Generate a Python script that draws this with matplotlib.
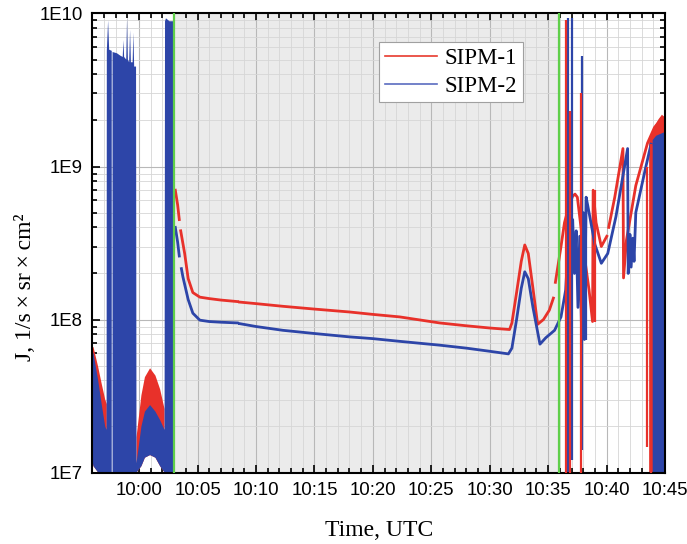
import numpy as np
import matplotlib
matplotlib.use("Agg")
import matplotlib.pyplot as plt
from matplotlib.lines import Line2D
from matplotlib.ticker import MultipleLocator, FuncFormatter, LogLocator, NullFormatter, FixedLocator

nan = np.nan

# time axis: minutes after 10:00 UTC
x_ticks = [0, 5, 10, 15, 20, 25, 30, 35, 40, 45]
y_ticks = [1e7, 1e8, 1e9, 1e10]
y_tick_labels = ["1E7", "1E8", "1E9", "1E10"]
green_marks = [3.02, 35.9]

# main SIPM-1 curve
red_t = [3.1, 3.3, 3.44, nan, 3.56, 3.7, 3.9, 4.2, 4.6, 5.2, 6.0, 7.0, 8.4, nan, 8.6, 10, 12.3, 15,
         18, 20, 22.3, 25.7, 28, 30, 31.7, 31.9, 32.3, 32.7, 33.0, 33.3, 33.7, 34.1, 34.6, 35.1,
         35.45, nan, 35.62, 36.1, 36.4, 36.8, 37.1, 37.3, 37.5, 37.7, 38.1, 38.5, 38.8, 38.85,
         39.1, 39.55, 40.02, nan, 40.18, 40.7, 41.4, 41.45, 41.7, 42.5, 43.5, 44.1, 44.8]
red_j = [7.0e8, 5.6e8, 4.5e8, nan, 3.8e8, 3.3e8, 2.7e8, 1.85e8, 1.5e8, 1.4e8, 1.37e8, 1.34e8, 1.31e8,
         nan, 1.3e8, 1.27e8, 1.22e8, 1.17e8, 1.12e8, 1.08e8, 1.04e8, 9.5e7, 9.1e7, 8.8e7, 8.6e7,
         9.5e7, 1.5e8, 2.4e8, 3.07e8, 2.7e8, 1.6e8, 9.3e7, 1.0e8, 1.15e8, 1.38e8, nan, 1.75e8,
         3.0e8, 4.3e8, 5.6e8, 6.4e8, 6.6e8, 6.3e8, 4.7e8, 2.6e8, 1.56e8, 9.7e7, 7.0e8, 4.3e8,
         3.0e8, 3.5e8, nan, 4.0e8, 6.3e8, 1.31e9, 1.87e8, 3.3e8, 7.5e8, 1.42e9, 1.8e9, 2.1e9]

# main SIPM-2 curve
blue_t = [3.1, 3.3, 3.44, nan, 3.62, 3.75, 4.2, 4.6, 5.2, 6.0, 7.0, 8.4, nan, 8.6, 10, 12.3, 15, 18,
          20, 22.3, 25.7, 28, 30, 31.6, 31.9, 32.3, 32.7, 33.0, 33.3, 33.7, 34.3, 34.8, 35.55,
          36.1, 36.5, 36.8, 36.95, 37.1, 37.25, 37.4, 37.55, 37.7, 37.85, 38.0, 38.1, 38.25,
          38.4, 39.0, 39.55, 40.1, 40.8, 41.8, 41.85, 42.0, 42.1, 42.25, 42.35, 42.5, 43.3, 43.8]
blue_j = [4.0e8, 3.2e8, 2.6e8, nan, 2.15e8, 1.9e8, 1.35e8, 1.1e8, 9.9e7, 9.7e7, 9.6e7, 9.5e7, nan,
          9.4e7, 9.0e7, 8.5e7, 8.1e7, 7.7e7, 7.5e7, 7.2e7, 6.8e7, 6.5e7, 6.2e7, 5.96e7, 6.5e7,
          1.0e8, 1.6e8, 2.05e8, 1.85e8, 1.2e8, 6.9e7, 7.6e7, 8.5e7, 1.04e8, 1.56e8, 4.1e8, 1.5e8,
          4.5e8, 2.0e8, 3.8e8, 1.2e8, 3.5e8, 9e7, 5.0e8, 7.4e7, 6.3e8, 5.5e8, 3.1e8, 2.33e8,
          2.7e8, 4.7e8, 1.31e9, 2.0e8, 3.6e8, 2.2e8, 3.4e8, 2.4e8, 5.0e8, 9.5e8, 1.4e9]

# envelopes of the fast oscillations at the start (SIPM-2 drawn over SIPM-1)
band_t = [-4.0, -3.9, -3.5, -3.2, -2.9, -2.78, -2.76, -2.65, -2.56, -2.34, nan, -2.27, -1.9, -1.6,
          -1.4, -1.34, -1.28, -1.1, -1.03, -0.96, -0.85, -0.77, -0.7, -0.55, -0.49, -0.42, -0.26,
          -0.22, 0.2, 0.5, 0.94, 1.4, 1.8, 2.18, 2.22, 2.3, 2.6, 2.95]
band_blue_hi = [6.2e7, 6.0e7, 4.0e7, 2.8e7, 2.0e7, 1.9e7, 5.7e9, 9.0e9, 5.8e9, 5.7e9, nan, 5.6e9,
                5.5e9, 5.3e9, 5.2e9, 6.7e9, 5.2e9, 5.0e9, 9.3e9, 5.0e9, 4.8e9, 7.8e9, 4.8e9, 4.8e9,
                7.5e9, 4.5e9, 4.5e9, 1.15e7, 2.0e7, 2.5e7, 2.76e7, 2.5e7, 2.2e7, 1.9e7, 8.9e9,
                9.3e9, 8.9e9, 8.9e9]
band_lo = [1.2e7, 1.1e7, 1e7, 1e7, 1e7, 1e7, 1e7, 1e7, 1e7, 1e7, nan, 1e7, 1e7, 1e7, 1e7, 1e7,
           1e7, 1e7, 1e7, 1e7, 1e7, 1e7, 1e7, 1e7, 1e7, 1e7, 1e7, 1.0e7, 1.1e7, 1.25e7, 1.3e7,
           1.25e7, 1.1e7, 1.0e7, 1e7, 1e7, 1e7, 1e7]
band_red_t = [-4.0, -3.9, -3.5, -3.2, -2.9, -2.76, nan, -0.22, 0.2, 0.5, 0.94, 1.4, 1.8, 2.18]
band_red_hi = [6.6e7, 6.6e7, 4.9e7, 3.8e7, 3.0e7, 2.8e7, nan, 1.7e7, 3.2e7, 4.2e7, 4.8e7, 4.3e7,
               3.5e7, 2.6e7]
band_red_lo = [1.2e7, 1.1e7, 1e7, 1e7, 1e7, 1e7, nan, 1.0e7, 1.1e7, 1.25e7, 1.3e7, 1.25e7, 1.1e7,
               1.0e7]

# oscillation band at the end
end_red_t = [43.6, 44.0, 44.4, 44.7, 45.0]
end_red_hi = [1.5e9, 1.8e9, 2.05e9, 2.2e9, 2.0e9]
end_blue_t = [43.9, 44.2, 44.6, 45.0]
end_blue_hi = [1.5e9, 1.6e9, 1.65e9, 1.7e9]

# single full-height bursts
red_spike_t = [36.55, 36.88, 37.8, 39.0, 43.5, 43.8]
red_spike_lo = [1e7, 1e7, 1e7, 9.7e7, 1.47e7, 1e7]
red_spike_hi = [9.0e9, 2.3e9, 3.0e9, 7.0e8, 1.0e9, 1.4e9]
blue_spike_t = [36.72, 37.05, 37.9, 38.25]
blue_spike_lo = [1e7, 1.2e7, 1.4e7, 7.4e7]
blue_spike_hi = [9.3e9, 9.3e9, 5.3e9, 6.0e8]

RED = "#e8312a"
BLUE = "#2d45a8"

plt.rcParams["font.family"] = ["Liberation Sans", "DejaVu Sans"]
serif = ["Liberation Serif", "DejaVu Serif"]

fig = plt.figure(figsize=(6.87, 5.44), dpi=100)
ax = fig.add_axes([0.1344, 0.1314, 0.8336, 0.8438])

ax.axvspan(green_marks[0], green_marks[1], color="#ebebeb", zorder=0.1, lw=0)

ax.fill_between(band_red_t, band_red_lo, band_red_hi, color=RED, lw=0, zorder=2)
ax.fill_between(band_t, band_lo, band_blue_hi, color=BLUE, lw=0, zorder=2.1)
ax.fill_between(end_red_t, 1e7, end_red_hi, color=RED, lw=0, zorder=2)
ax.fill_between(end_blue_t, 1e7, end_blue_hi, color=BLUE, lw=0, zorder=2.1)

ax.plot(red_t, red_j, color=RED, lw=2.0, zorder=2.3)
ax.plot(blue_t, blue_j, color=BLUE, lw=2.0, zorder=2.4)
ax.vlines(blue_spike_t, blue_spike_lo, blue_spike_hi, color=BLUE, lw=1.6, zorder=2.5)
ax.vlines(red_spike_t, red_spike_lo, red_spike_hi, color=RED, lw=1.6, zorder=2.6)

for g in green_marks:
    ax.axvline(g, color="#5fcf4a", lw=1.6, zorder=3)

ax.set_yscale("log")
ax.set_xlim(-4, 45)
ax.set_ylim(1e7, 1e10)

ax.xaxis.set_major_locator(FixedLocator(x_ticks))
ax.xaxis.set_minor_locator(MultipleLocator(1))
ax.xaxis.set_major_formatter(FuncFormatter(lambda v, p: "10:%02d" % int(round(v))))
ax.yaxis.set_major_locator(FixedLocator(y_ticks))
ax.yaxis.set_major_formatter(FuncFormatter(lambda v, p: y_tick_labels[y_ticks.index(v)] if v in y_ticks else ""))
ax.yaxis.set_minor_locator(LogLocator(base=10, subs=np.arange(2, 10)))
ax.yaxis.set_minor_formatter(NullFormatter())

ax.set_axisbelow(True)
ax.grid(which="major", color="#b8b8b8", lw=0.8)
ax.grid(which="minor", color="#d6d6d6", lw=0.6)

ax.tick_params(which="both", direction="in", top=True, right=True, labelsize=13.4, width=1.2)
ax.tick_params(which="major", length=6, pad=7)
ax.tick_params(which="minor", length=3.5)
for s in ax.spines.values():
    s.set_linewidth(1.5)

ax.set_xlabel("Time, UTC", family=serif, fontsize=17, labelpad=15)
ax.set_ylabel("J, 1/s\u2009×\u2009sr\u2009×\u2009cm²", family=serif, fontsize=17)
ax.yaxis.set_label_coords(-0.098, 0.404)

handles = [Line2D([], [], color="#e8392e", lw=1.2), Line2D([], [], color="#5a6cc0", lw=1.2)]
leg = ax.legend(handles, ["SIPM-1", "SIPM-2"], loc="upper left", bbox_to_anchor=(0.5006, 0.938),
                prop={"family": serif, "size": 16.5}, frameon=True, fancybox=False, framealpha=1,
                edgecolor="#a0a0a0", handlelength=2.3, handletextpad=0.3, borderpad=0.25,
                borderaxespad=0, labelspacing=0.3)
leg.get_frame().set_linewidth(0.8)
leg.set_zorder(5)

fig.savefig("out.png", dpi=100)
